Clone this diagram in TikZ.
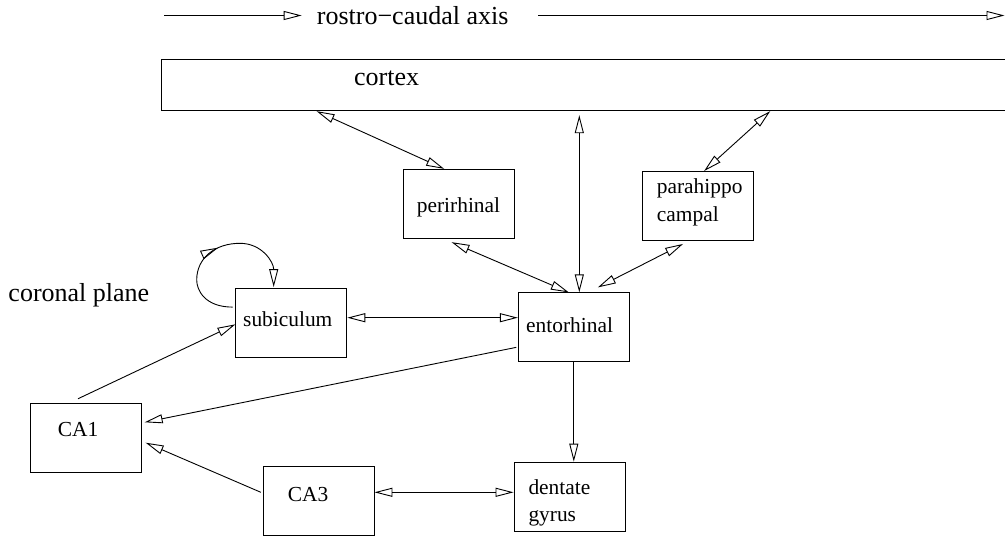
\documentclass[tikz,border=0pt]{standalone}
\usepackage{fontspec}
\setmainfont{Liberation Serif}
\usetikzlibrary{arrows.meta,decorations.markings,calc}
\tikzset{
 box/.style={draw, rectangle, line width=0.9pt, minimum width=111pt, minimum height=69pt, inner sep=0pt},
 big/.style={font=\fontsize{26}{30}\selectfont, inner sep=0pt, anchor=base west},
 lab/.style={font=\fontsize{21.4}{27.7}\selectfont, inner sep=0pt, anchor=base west, align=left},
 conn/.style={line width=0.9pt},
 tip/.tip={Triangle[open,length=18pt,width=9pt]},
 bi/.style={conn, tip-tip},
 uni/.style={conn, -tip},
}
\begin{document}
\begin{tikzpicture}[x=1pt,y=-1pt]
\useasboundingbox (0,0) rectangle (1005,536);
% boxes
\node[box, minimum width=848.3pt, minimum height=51.4pt] (cortex) at (585.85,85) {};
\node[box] (peri) at (458.5,203.8) {};
\node[box] (para) at (698.3,206) {};
\node[box] (ent) at (573.8,327.35) {};
\node[box] (sub) at (291.35,323.35) {};
\node[box] (ca1) at (86,438) {};
\node[box] (ca3) at (318.5,500.5) {};
\node[box] (dg) at (569.5,496.65) {};
% texts
\node[big] (tcortex) at (354,85) {cortex};
\node[big] (taxis) at (316.7,24.2) {rostro−caudal axis};
\node[big] (tcoronal) at (8.3,301.7) {coronal plane};
\node[lab] (tperi) at (416.7,212.7) {perirhinal};
\node[lab] (tpara) at (656.7,221) {parahippo\\campal};
\node[lab] (tent) at (526,332) {entorhinal};
\node[lab] (tsub) at (243,326) {subiculum};
\node[lab] (tca1) at (57.7,436) {CA1};
\node[lab] (tca3) at (287.7,501) {CA3};
\node[lab] (tdg) at (528.3,521.7) {dentate\\gyrus};
% axis
\coordinate (ax0) at (164,15.5);
\coordinate (ax1) at (301.7,15.5);
\coordinate (ax2) at (538.3,15.5);
\coordinate (ax3) at (1004.5,15.5);
\draw[uni] (ax0) -- (ax1);
\draw[uni] (ax2) -- (ax3);
% connectors
\draw[bi] ([xshift=155.3pt]cortex.south west) -- ([xshift=41.6pt]peri.north west);
\coordinate (e2) at ([xshift=5.5pt]ent.north);
\draw[bi, shorten >=4pt] (e2) -- (e2 |- cortex.south);
\draw[bi] ([xshift=609pt]cortex.south west) -- ([xshift=61.7pt]para.north west);
\draw[bi] ([shift={(49pt,-3.4pt)}]peri.south west) -- ([xshift=51pt]ent.north west);
\draw[bi] ([shift={(40.7pt,-3pt)}]para.south west) -- ([shift={(80pt,5pt)}]ent.north west);
\coordinate (s1) at ([yshift=5.65pt]sub.east);
\draw[bi] (s1) -- (s1 -| ent.west);
\draw[uni] ([shift={(-1.6pt,-20pt)}]ent.west) -- ([shift={(2.7pt,15.7pt)}]ca1.east);
\draw[uni] ([shift={(-8pt,4.3pt)}]ca1.north) -- ([yshift=-1pt]sub.west);
\draw[uni] ([shift={(-1.7pt,8.2pt)}]ca3.west) -- ([shift={(3.7pt,-4.7pt)}]ca1.east);
\coordinate (c1) at ([yshift=8.2pt]ca3.east);
\draw[bi] (c1) -- (c1 -| dg.west);
\draw[uni] (ent.south) -- (ent.south |- dg.north);
% loop on subiculum
\coordinate (l0) at ([shift={(-2.7pt,-18.7pt)}]sub.north west);
\coordinate (l1) at ([shift={(38.3pt,1.3pt)}]sub.north west);
\draw[uni, postaction={decorate}, decoration={markings, mark=at position 0.52 with {\arrow{tip}}}]
  (l0) .. controls +(-28,0) and +(0,10) .. (196.7,280)
       .. controls +(0,-22) and +(-25,0) .. (240,243.3)
       .. controls +(22,0) and +(0,-25) .. (l1);
\end{tikzpicture}
\end{document}
